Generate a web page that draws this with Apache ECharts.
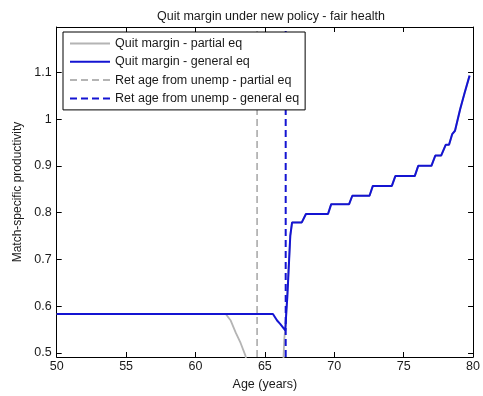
<!DOCTYPE html>
<html>
<head>
<meta charset="utf-8">
<script src="https://cdn.jsdelivr.net/npm/echarts@6/dist/echarts.min.js"></script>
<style>
html, body { margin: 0; padding: 0; background: #fff; }
#main { width: 483px; height: 396px; }
</style>
</head>
<body>
<div id="main"></div>
<script>
// quit margin, general equilibrium (age, productivity)
const ageGE = [50, 65.58, 65.88, 66.1, 66.47, 66.55, 66.62, 66.83, 66.96, 67.66, 67.96, 69.55, 69.78, 71.07, 71.3, 72.54, 72.78, 74.15, 74.4, 75.8, 76.05, 77.0, 77.28, 77.7, 78.03, 78.27, 78.5, 78.7, 79.07, 79.4, 79.75];
const prodGE = [0.583, 0.583, 0.569, 0.562, 0.548, 0.59, 0.62, 0.75, 0.779, 0.779, 0.797, 0.797, 0.818, 0.818, 0.836, 0.836, 0.857, 0.857, 0.878, 0.878, 0.900, 0.900, 0.922, 0.922, 0.945, 0.945, 0.968, 0.975, 1.021, 1.057, 1.093];

// quit margin, partial equilibrium (mostly hidden behind GE after 66.8)
const agePE = [50, 62.18, 62.54, 62.9, 63.25, 63.6, 63.8, 66.3, 66.4, 66.5, 66.6, 66.83, 66.96, 67.66, 67.96, 69.55, 69.78, 71.07, 71.3, 72.54, 72.78, 74.15, 74.4, 75.8, 76.05, 77.0, 77.28, 77.7, 78.03, 78.27, 78.5, 78.7, 79.07, 79.4, 79.75];
const prodPE = [0.583, 0.583, 0.569, 0.543, 0.521, 0.494, 0.46, 0.46, 0.53, 0.56, 0.62, 0.75, 0.779, 0.779, 0.797, 0.797, 0.818, 0.818, 0.836, 0.836, 0.857, 0.857, 0.878, 0.878, 0.900, 0.900, 0.922, 0.922, 0.945, 0.945, 0.968, 0.975, 1.021, 1.057, 1.093];

// retirement age from unemployment
const retAgePE = 64.44;
const retAgeGE = 66.5;

const xTicks = [50, 55, 60, 65, 70, 75, 80];
const yTicks = [0.5, 0.6, 0.7, 0.8, 0.9, 1, 1.1];
const yMin = 0.491, yMax = 1.197;

const font = 'Liberation Sans, Arial, sans-serif';
const blue = '#1414d2';
const gray = '#b4b4b4';
const ink = '#1a1a1a';

const zip = (a, b) => a.map((v, i) => [v, b[i]]);

const chart = echarts.init(document.getElementById('main'));

const axisLine = { show: true, lineStyle: { color: '#000', width: 1 } };
const tick = { show: true, inside: true, length: 5, lineStyle: { color: '#000' } };

chart.setOption({
  animation: false,
  backgroundColor: '#fff',
  title: {
    text: 'Quit margin under new policy - fair health',
    left: 152, top: 5,
    textStyle: { fontFamily: font, fontSize: 12.5, fontWeight: 'normal', color: ink }
  },
  grid: { left: 56.7, right: 3.7, top: 27, bottom: 38, containLabel: false },
  legend: {
    orient: 'vertical',
    left: 63, top: 32,
    itemWidth: 40, itemHeight: 14, itemGap: 5.3,
    padding: [5, 6, 5, 6],
    borderColor: '#000', borderWidth: 1, backgroundColor: '#fff',
    itemStyle: { opacity: 0 },
    textStyle: { fontFamily: font, fontSize: 12.5, color: ink },
    data: ['Quit margin - partial eq', 'Quit margin - general eq',
           'Ret age from unemp - partial eq', 'Ret age from unemp - general eq']
  },
  xAxis: [{
    type: 'value', min: 50, max: 80, interval: 5,
    name: 'Age (years)', nameLocation: 'middle', nameGap: 21,
    nameTextStyle: { fontFamily: font, fontSize: 12.5, color: ink },
    axisLine, axisTick: tick, splitLine: { show: false },
    axisLabel: { fontFamily: font, fontSize: 12.5, color: ink, margin: 3 }
  }, {
    type: 'value', min: 50, max: 80, interval: 5, position: 'top',
    axisLine, axisTick: tick, splitLine: { show: false }, axisLabel: { show: false }
  }],
  yAxis: [{
    type: 'value', min: yMin, max: yMax,
    name: 'Match-specific productivity', nameLocation: 'middle', nameGap: 29,
    nameTextStyle: { fontFamily: font, fontSize: 12, color: ink },
    axisLine, splitLine: { show: false },
    axisTick: Object.assign({ customValues: yTicks }, tick),
    axisLabel: { customValues: yTicks, fontFamily: font, fontSize: 12.5, color: ink, margin: 5 }
  }, {
    type: 'value', min: yMin, max: yMax, position: 'right',
    axisLine, splitLine: { show: false },
    axisTick: Object.assign({ customValues: yTicks }, tick),
    axisLabel: { show: false, customValues: yTicks }
  }],
  series: [{
    name: 'Quit margin - partial eq', type: 'line', data: zip(agePE, prodPE),
    showSymbol: false, symbol: 'none', clip: true,
    lineStyle: { color: gray, width: 1.8 }, itemStyle: { color: gray }
  }, {
    name: 'Ret age from unemp - partial eq', type: 'line',
    data: [[retAgePE, yMin], [retAgePE, yMax]],
    showSymbol: false, symbol: 'none',
    lineStyle: { color: gray, width: 1.8, type: [7, 4] }, itemStyle: { color: gray }
  }, {
    name: 'Quit margin - general eq', type: 'line', data: zip(ageGE, prodGE),
    showSymbol: false, symbol: 'none', clip: true,
    lineStyle: { color: blue, width: 2 }, itemStyle: { color: blue }
  }, {
    name: 'Ret age from unemp - general eq', type: 'line',
    data: [[retAgeGE, yMin], [retAgeGE, yMax]],
    showSymbol: false, symbol: 'none',
    lineStyle: { color: blue, width: 2, type: [7, 4] }, itemStyle: { color: blue }
  }]
});
</script>
</body>
</html>
